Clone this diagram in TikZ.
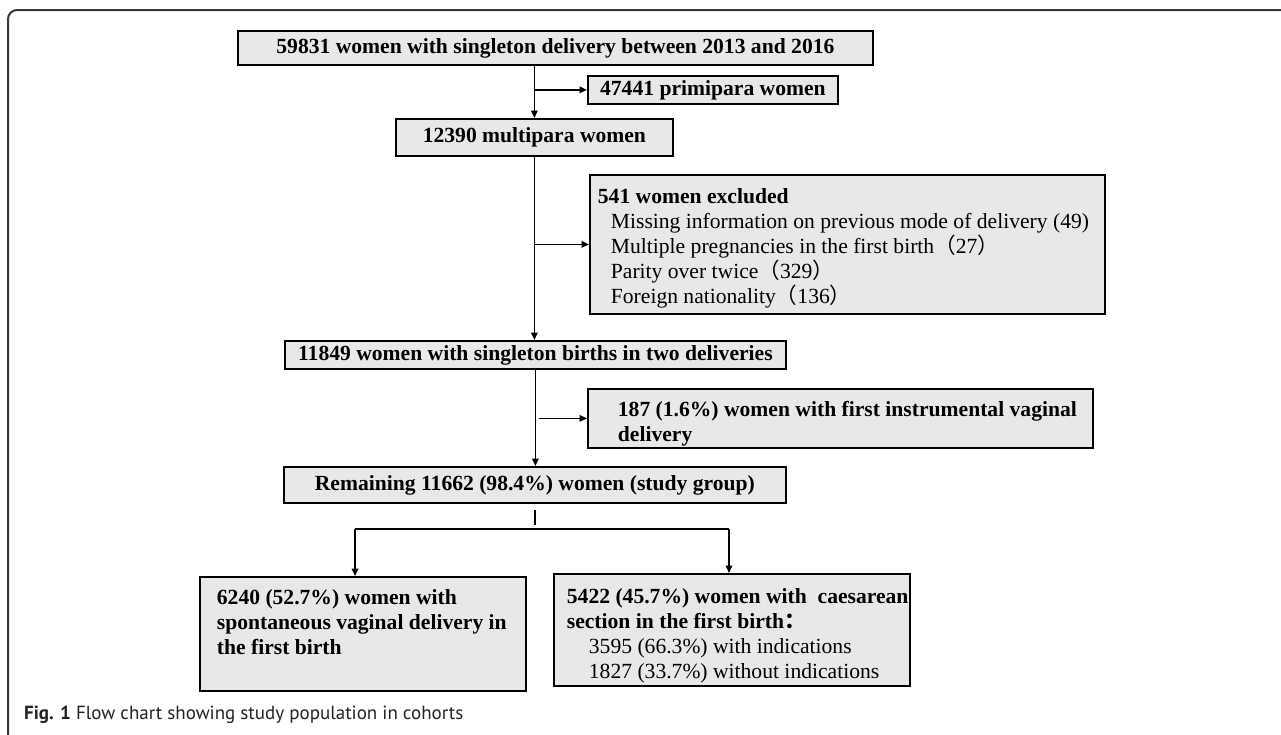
\documentclass[tikz,border=0pt]{standalone}
\usepackage{fontspec}
\setmainfont{Liberation Serif}
\newfontfamily\capfont{PT Sans}
\newfontfamily\cjk{Noto Sans CJK SC}
\usetikzlibrary{arrows.meta}
\definecolor{boxgray}{RGB}{232,232,232}
\definecolor{framegray}{RGB}{55,55,55}
\definecolor{capgray}{RGB}{35,35,35}
\begin{document}
\begin{tikzpicture}[x=1pt,y=-1pt,
  fbox/.style={draw=black, line width=1.8pt, fill=boxgray, inner sep=0pt, anchor=north west,
    font=\bfseries\fontsize{21.6}{25}\selectfont},
  conn/.style={line width=1.7pt, -{Triangle[length=7.5pt,width=6.5pt]}},
  plainline/.style={line width=1.7pt}]
\useasboundingbox (0,0) rectangle (1281,734);
\fill[white] (0,0) rectangle (1281,734);
\draw[framegray, line width=2pt, rounded corners=9pt] (8,740) -- (8,10) -- (1290,10);

\node[fbox, minimum width=635pt, minimum height=34pt] (b1) at (237,30)
  {59831 women with singleton delivery between 2013 and 2016};
\node[fbox, minimum width=250pt, minimum height=28pt] (b2) at (587,75)
  {47441 primipara women};
\node[fbox, minimum width=277pt, minimum height=37pt] (b3) at (395,118)
  {12390 multipara women};
\node[fbox] (b4) at (589,174)
  {\parbox[c][139pt][t]{515pt}{\raggedright\vskip 11pt
   \hspace*{8pt}\mbox{\strut 541 women excluded}\\
   \mdseries
   \hspace*{21pt}\mbox{Missing information on previous mode of delivery (49)}\\
   \hspace*{21pt}\mbox{Multiple pregnancies in the first birth{\cjk （}27{\cjk ）}}\\
   \hspace*{21pt}\mbox{Parity over twice{\cjk （}329{\cjk ）}}\\
   \hspace*{21pt}\mbox{Foreign nationality{\cjk （}136{\cjk ）}}}};
\node[fbox, minimum width=501pt, minimum height=28pt] (b5) at (284,340)
  {11849 women with singleton births in two deliveries};
\node[fbox] (b6) at (587,388)
  {\parbox[c][59pt][t]{505pt}{\raggedright\vskip 10pt
   \hspace*{30pt}\mbox{\strut 187 (1.6\%) women with first instrumental vaginal}\\
   \hspace*{30pt}\mbox{delivery}}};
\node[fbox, minimum width=502pt, minimum height=36pt] (b7) at (283,466)
  {Remaining 11662 (98.4\%) women (study group)};
\node[fbox] (b8) at (199,576)
  {\parbox[c][114pt][t]{326pt}{\raggedright\vskip 10pt
   \hspace*{17pt}\mbox{\strut 6240 (52.7\%) women with}\\
   \hspace*{17pt}\mbox{spontaneous vaginal delivery in}\\
   \hspace*{17pt}\mbox{the first birth}}};
\node[fbox] (b9) at (553,573)
  {\parbox[c][112pt][t]{356pt}{\raggedright\vskip 12pt
   \hspace*{13pt}\mbox{\strut 5422 (45.7\%) women with\ \ caesarean}\\
   \hspace*{13pt}\mbox{section in the first birth{\cjk ：}}\\
   \mdseries
   \hspace*{35pt}\mbox{3595 (66.3\%) with indications}\\
   \hspace*{35pt}\mbox{1827 (33.7\%) without indications}}};

\node[anchor=base west, inner sep=0pt, text=capgray, font=\capfont\fontsize{19}{22}\selectfont] (cap) at (24,719)
  {\textbf{Fig. 1} Flow chart showing study population in cohorts};

% main spine
\draw[conn] (b1.south -| b3.north) -- (b3.north);
\draw[conn] (b2.west -| b3.north) -- (b2.west);
\draw[conn] (b3.south) -- (b3.south |- b5.north);
\draw[conn] (b4.west -| b3.south) -- (b4.west);
\draw[conn] (b5.south) -- (b5.south |- b7.north);
\draw[conn] ([xshift=4pt]b6.west -| b5.south) -- (b6.west);

% split to the two groups
\coordinate (stemend) at (534,525);
\coordinate (hl) at (355,529);
\coordinate (hr) at (729,529);
\draw[plainline] ([yshift=-6pt]b7.south) -- (b7.south |- stemend);
\draw[plainline] (hl) -- (hr);
\draw[conn] (hl) -- (hl |- b8.north);
\draw[conn] (hr) -- (hr |- b9.north);
\end{tikzpicture}
\end{document}
